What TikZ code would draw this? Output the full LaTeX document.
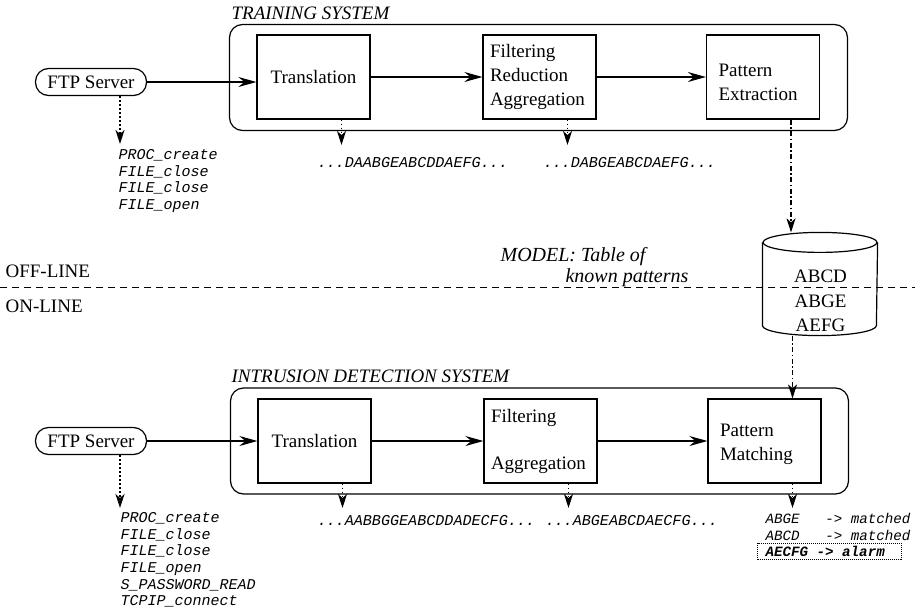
\documentclass[tikz,border=0pt]{standalone}
\usepackage{fontspec}
\setmainfont{Liberation Serif}
\setmonofont{Liberation Mono}
\usetikzlibrary{arrows.meta}
\begin{document}
\begin{tikzpicture}[x=1pt,y=-1pt,
  line width=1.2pt,
  harrow/.style={-{Stealth[length=18pt,width=10pt,inset=6pt]}},
  darrow/.style={-{Stealth[length=14pt,width=9pt,inset=4pt]}},
  every node/.style={font=\fontsize{19}{24}\selectfont},
  sysbox/.style={draw, rounded corners=13pt, minimum width=618pt, minimum height=106pt, inner sep=0pt},
  procbox/.style={draw, minimum width=113pt, minimum height=84pt, inner sep=0pt},
  ftpbox/.style={draw, rounded corners=13pt, minimum width=111pt, minimum height=27pt, inner sep=0pt},
  lbl/.style={font=\fontsize{19}{24}\selectfont\itshape, inner sep=0pt},
  calls/.style={font=\fontsize{15}{16.6}\selectfont\ttfamily\itshape, align=left, inner sep=0pt},
  seq/.style={font=\fontsize{15.1}{18}\selectfont\ttfamily\itshape, inner sep=0pt},
  res/.style={font=\fontsize{14.2}{16.8}\selectfont\ttfamily\itshape, inner sep=0pt},
  dots/.style={dash pattern=on 1.5pt off 2.5pt},
  dashdotline/.style={dash pattern=on 5pt off 2.5pt on 1.5pt off 2.5pt},
]
\useasboundingbox (0,0) rectangle (915,610);

% ---------------- TRAINING SYSTEM ----------------
\node[lbl, anchor=base west] (tlabel) at (231,20) {TRAINING SYSTEM};
\node[sysbox] (ts) at (538.5,77.5) {};
\node[ftpbox] (ftp1) at (91,82) {FTP Server};
\node[procbox, align=center, text width=99pt] (tr1) at (313.5,77) {Translation};
\node[procbox, align=left, text width=99pt, inner xsep=7pt] (fi1) at (539.5,77) {Filtering\\Reduction\\Aggregation};
\node[procbox, align=left, text width=89pt, inner xsep=12pt, text height=24pt] (pe1) at (763,77) {Pattern\\Extraction};

\draw[harrow] (ftp1.east) -- (ftp1.east -| tr1.west);
\draw[harrow] (tr1.east) -- (fi1.west);
\draw[harrow] (fi1.east) -- (pe1.west);

\coordinate (c1) at (120,144);
\coordinate (c2) at (341.5,145);
\coordinate (c3) at (567.5,145);
\draw[darrow, dots] ([xshift=29pt]ftp1.south) -- (c1);
\draw[darrow, dots] ([xshift=28pt]tr1.south) -- (c2);
\draw[darrow, dots] ([xshift=28pt]fi1.south) -- (c3);

\node[calls, anchor=north west] (calls1) at (118,149) {PROC\_create\\FILE\_close\\FILE\_close\\FILE\_open};
\node[seq, anchor=west] (seq1) at (317,163) {...DAABGEABCDDAEFG...};
\node[seq, anchor=west] (seq2) at (543,163) {...DABGEABCDAEFG...};

% ---------------- MODEL ----------------
\node[minimum width=114pt, minimum height=102pt, inner sep=0pt] (db) at (820,284) {};
\draw ([yshift=-10pt]db.north) ellipse [x radius=57pt, y radius=10pt];
\draw ([yshift=-10pt]db.north west) -- ([yshift=10pt]db.south west)
      arc [start angle=180, end angle=360, x radius=57pt, y radius=10pt]
      -- ([yshift=-10pt]db.north east);
\node[align=center, inner sep=0pt, font=\fontsize{19}{24.5}\selectfont] (dbtext) at (820.5,301) {ABCD\\ABGE\\AEFG};

\draw[darrow, dashdotline] ([xshift=28pt]pe1.south) -- ([xshift=-29pt]db.north);

\node[lbl, align=left, font=\fontsize{20}{21}\selectfont\itshape, anchor=north west] (model) at (500,247) {MODEL: Table of\\\hspace*{65pt}known patterns};

% ---------------- OFF/ON-LINE ----------------
\coordinate (dl) at (0,287);
\coordinate (dr) at (915,287);
\draw[dash pattern=on 7pt off 5pt, line width=1pt] (dl) -- (dr);
\node[inner sep=0pt, anchor=base west] (off) at (5,277) {OFF-LINE};
\node[inner sep=0pt, anchor=base west] (on) at (5,312) {ON-LINE};

% ---------------- INTRUSION DETECTION SYSTEM ----------------
\node[lbl, anchor=base west] (ilabel) at (231,382) {INTRUSION DETECTION SYSTEM};
\node[sysbox] (ids) at (539.5,441) {};
\node[ftpbox] (ftp2) at (91,441) {FTP Server};
\node[procbox, align=center, text width=99pt] (tr2) at (314.5,441) {Translation};
\node[procbox, align=left, text width=99pt, inner xsep=7pt] (fi2) at (540.5,441) {Filtering\\[23pt]Aggregation};
\node[procbox, align=left, text width=89pt, inner xsep=12pt, text height=20pt] (pm2) at (764.5,441) {Pattern\\Matching};

\draw[harrow] (ftp2.east) -- (ftp2.east -| tr2.west);
\draw[harrow] (tr2.east) -- (fi2.west);
\draw[harrow] (fi2.east) -- (pm2.west);

\draw[darrow, dashdotline] ([xshift=-27.5pt]db.south) -- ([xshift=28pt]pm2.north);

\coordinate (d1) at (120,508);
\coordinate (d2) at (342.5,508);
\coordinate (d3) at (568.5,508);
\coordinate (d4) at (792.5,508);
\draw[darrow, dots] ([xshift=29pt]ftp2.south) -- (d1);
\draw[darrow, dots] ([xshift=28pt]tr2.south) -- (d2);
\draw[darrow, dots] ([xshift=28pt]fi2.south) -- (d3);
\draw[darrow, dots] ([xshift=28pt]pm2.south) -- (d4);

\node[calls, anchor=north west] (calls2) at (120,512) {PROC\_create\\FILE\_close\\FILE\_close\\FILE\_open\\S\_PASSWORD\_READ\\TCPIP\_connect};
\node[seq, anchor=west] (seq3) at (317,521) {...AABBGGEABCDDADECFG...};
\node[seq, anchor=west] (seq4) at (545,521) {...ABGEABCDAECFG...};

\node[res, anchor=west] (r1) at (765,518) {ABGE\ \ \ -> matched};
\node[res, anchor=west] (r2) at (765,535) {ABCD\ \ \ -> matched};
\node[res, anchor=west, draw, densely dotted, line width=1pt, inner xsep=8pt, inner ysep=3pt, font=\fontsize{14.2}{16.8}\selectfont\ttfamily\itshape\bfseries] (r3) at (757,551.5) {AECFG -> alarm\ \ };
\end{tikzpicture}
\end{document}
